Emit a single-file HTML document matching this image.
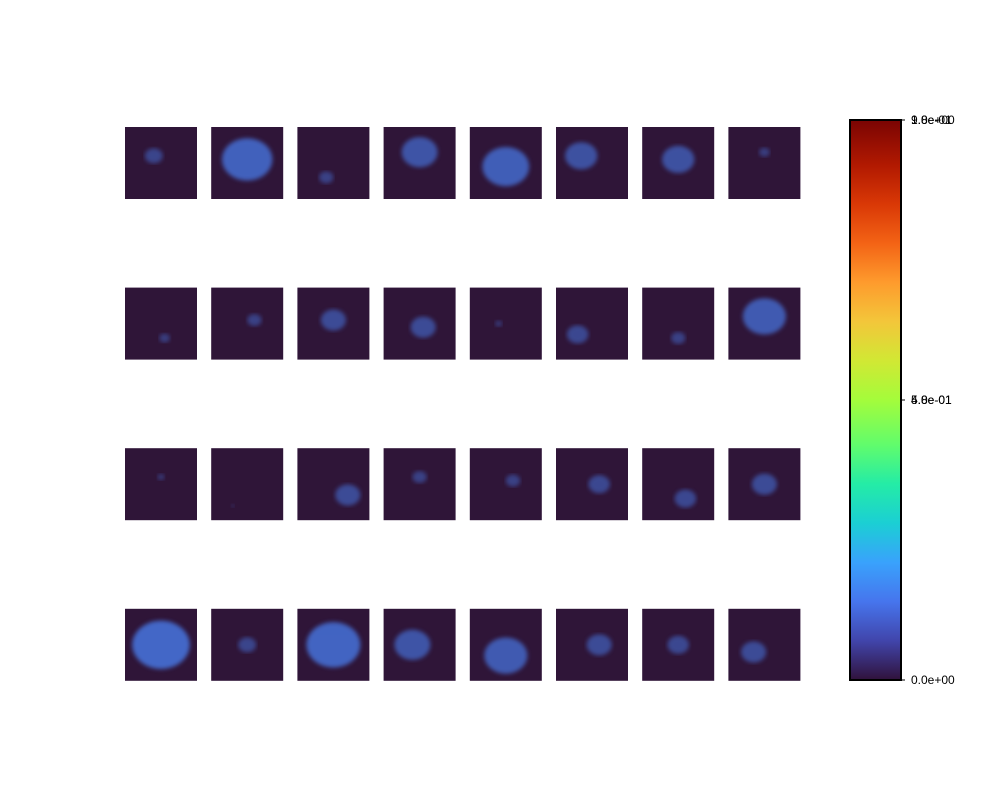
<!DOCTYPE html>
<html><head><meta charset="utf-8"><style>
body{margin:0;background:#fff;}
svg{display:block;font-family:"Liberation Sans",sans-serif;}
</style></head><body>
<svg id="chart" width="1000" height="800">
<defs>
<linearGradient id="turbo" x1="0" y1="1" x2="0" y2="0">
<stop offset="0" stop-color="#30123b"/><stop offset="0.07" stop-color="#4145ab"/>
<stop offset="0.14" stop-color="#4675ed"/><stop offset="0.21" stop-color="#39a2fc"/>
<stop offset="0.28" stop-color="#1bcfd4"/><stop offset="0.35" stop-color="#24eca6"/>
<stop offset="0.42" stop-color="#61fc6c"/><stop offset="0.5" stop-color="#a4fc3b"/>
<stop offset="0.57" stop-color="#d1e834"/><stop offset="0.64" stop-color="#f3c63a"/>
<stop offset="0.71" stop-color="#fe9b2d"/><stop offset="0.78" stop-color="#f36315"/>
<stop offset="0.85" stop-color="#d93806"/><stop offset="0.92" stop-color="#b11901"/>
<stop offset="1" stop-color="#7a0403"/>
</linearGradient>
<filter id="blur"><feGaussianBlur stdDeviation="2"/></filter>
</defs>
<g id="tiles"></g>
<rect x="850" y="120" width="51" height="560" fill="url(#turbo)" stroke="#000" stroke-width="2"/>
<g id="cbticks"></g>
</svg>
<script>
const coverage=[0.25,0.7,0.2,0.5,0.65,0.45,0.45,0.15,
0.15,0.2,0.35,0.35,0.1,0.3,0.2,0.6,
0.1,0.05,0.35,0.2,0.2,0.3,0.3,0.35,
0.8,0.25,0.75,0.5,0.6,0.35,0.3,0.35];
const blobX=[0.4,0.5,0.4,0.5,0.5,0.35,0.5,0.5,0.55,0.6,0.5,0.55,0.4,0.3,0.5,0.5,0.5,0.3,0.7,0.5,0.6,0.6,0.6,0.5,0.5,0.5,0.5,0.4,0.5,0.6,0.5,0.35];
const blobY=[0.4,0.45,0.7,0.35,0.55,0.4,0.45,0.35,0.7,0.45,0.45,0.55,0.5,0.65,0.7,0.4,0.4,0.8,0.65,0.4,0.45,0.5,0.7,0.5,0.5,0.5,0.5,0.5,0.65,0.5,0.5,0.6];
const tickVals=[0,0.5,0.5,1.0,1.0];
const tickLabels=["0.0e+00","4.8e-01","5.0e-01","9.8e-01","1.0e+00"];
const ns="http://www.w3.org/2000/svg";
const colX=c=>125+c*86.2, rowY=r=>127+r*160.6, T=72;
const g=document.getElementById('tiles');
coverage.forEach((v,i)=>{
 const r=Math.floor(i/8),c=i%8,x=colX(c),y=rowY(r);
 const tg=document.createElementNS(ns,'g');
 
 
 const bg=document.createElementNS(ns,'rect');
 bg.setAttribute('x',x);bg.setAttribute('y',y);bg.setAttribute('width',T);bg.setAttribute('height',T);bg.setAttribute('fill','#2f1538');
 tg.appendChild(bg);
 const e=document.createElementNS(ns,'ellipse');
 e.setAttribute('cx',x+blobX[i]*T);e.setAttribute('cy',y+blobY[i]*T);
 e.setAttribute('rx',v*T*0.5);e.setAttribute('ry',v*T*0.42);
 e.setAttribute('fill','#4a7ff0');e.setAttribute('opacity',0.3+v*0.6);
 e.setAttribute('filter','url(#blur)');
 
 
 const cp=document.createElementNS(ns,'clipPath');cp.id='cp'+i;
 const cr=bg.cloneNode();cp.appendChild(cr);tg.appendChild(cp);
 e.setAttribute('clip-path','url(#cp'+i+')');
 tg.appendChild(e);g.appendChild(tg);
});
const cb=document.getElementById('cbticks');
const cy=v=>680-v*560;
tickVals.forEach((v,i)=>{
 const l=document.createElementNS(ns,'line');
 l.setAttribute('x1',901);l.setAttribute('x2',905);l.setAttribute('y1',cy(v));l.setAttribute('y2',cy(v));l.setAttribute('stroke','#000');
 
 
 cb.appendChild(l);
 const t=document.createElementNS(ns,'text');
 t.setAttribute('x',911);t.setAttribute('y',cy(v)+4);t.setAttribute('font-size','12');
 t.textContent=tickLabels[i];
 
 
 cb.appendChild(t);
});
</script>
</body></html>
